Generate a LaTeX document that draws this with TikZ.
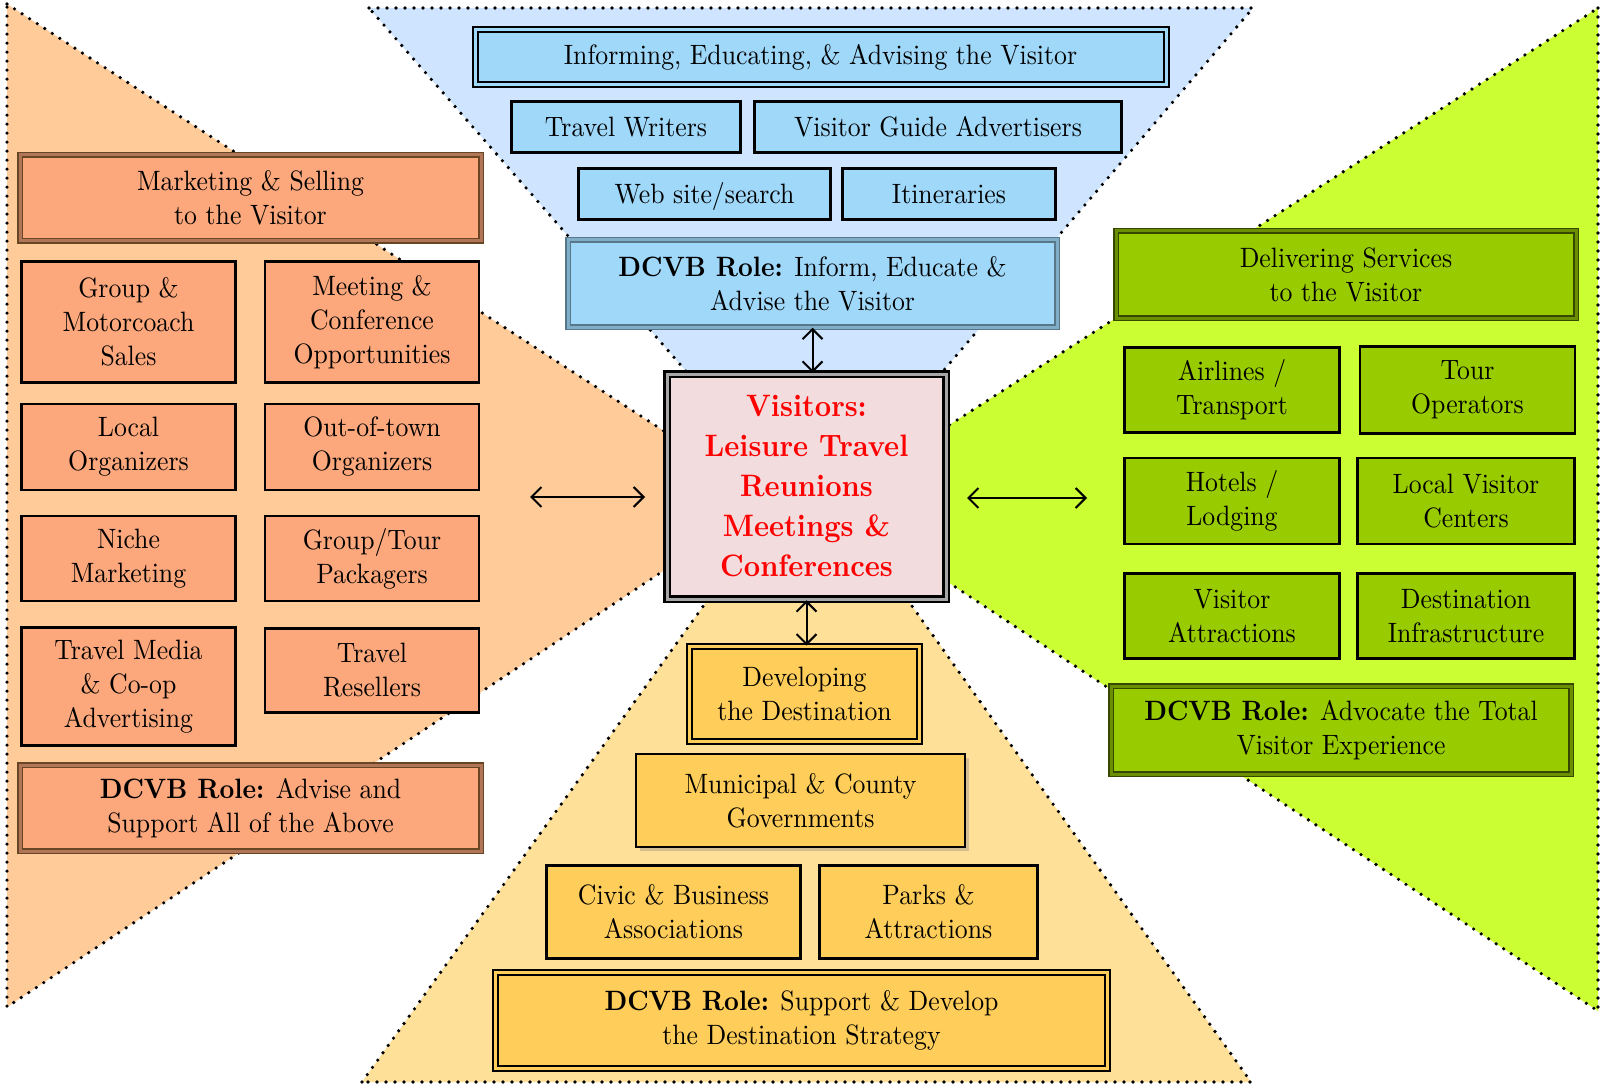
\documentclass[tikz,border=0pt]{standalone}
\usepackage{fontspec}
\setmainfont{lmroman10-regular.otf}[BoldFont=lmroman10-bold.otf, FakeStretch=0.92]
\usetikzlibrary{positioning,arrows.meta,shadows}
\definecolor{peach}{RGB}{255,204,153}
\definecolor{salmon}{RGB}{252,168,124}
\definecolor{skyfill}{RGB}{206,228,255}
\definecolor{skybox}{RGB}{160,216,250}
\definecolor{lime}{RGB}{204,255,51}
\definecolor{olive}{RGB}{153,204,0}
\definecolor{sand}{RGB}{255,224,153}
\definecolor{gold}{RGB}{255,206,90}
\definecolor{blush}{RGB}{242,220,221}

\begin{document}
\begin{tikzpicture}[x=1pt, y=-1pt, on grid,
>={Straight Barb[length=10pt,width=20pt]},
base/.style ={rectangle, inner sep=0pt, align=center,
font=\fontsize{28}{34}\selectfont},
item/.style ={base, draw, line width=2.5pt},
hdr/.style ={base, draw, line width=1.5pt, double distance=3pt},
lbox/.style ={item, fill=salmon, minimum width=214pt},
lhdr/.style ={hdr, fill=salmon, draw=brown!55!black, double=salmon!70!black,
minimum width=461pt, minimum height=86pt},
rbox/.style ={item, fill=olive, minimum width=215pt},
rhdr/.style ={hdr, fill=olive, draw=olive!35!black, double=olive!70!black,
minimum width=460pt},
tbox/.style ={item, fill=skybox, minimum height=51pt, text height=24pt, text depth=5pt},
bbox/.style ={item, fill=gold, minimum height=93pt},
dotline/.style ={line width=3.6pt, dash pattern=on 0pt off 9pt, line cap=round},
link/.style ={<->, line width=2pt}]
\useasboundingbox (0,0) rectangle (1601,1086);

\filldraw[fill=peach, dotline] (7,4) -- (770,500) -- (7,1007) -- cycle;
\filldraw[fill=skyfill, dotline] (369,8) -- (1253,8) -- (816,520) -- cycle;
\filldraw[fill=lime, dotline] (1598,8) -- (1598,1011) -- (828,503) -- cycle;
\filldraw[fill=sand, dotline] (362,1082) -- (808,460) -- (1251,1082) -- cycle;

\node[lhdr] (mkt) at (250.5,198) {Marketing \& Selling\\to the Visitor};
\node[lbox, minimum height=121pt] (gm) at (128.5,322) {Group \&\\Motorcoach\\Sales};
\node[lbox, minimum height=121pt] (mc) [right = 243.5pt of gm] {Meeting \&\\Conference\\Opportunities};
\node[lbox, minimum height=86pt] (lo) [below = 125pt of gm] {Local\\Organizers};
\node[lbox, minimum height=86pt] (oo) [below = 125pt of mc] {Out-of-town\\Organizers};
\node[lbox, minimum height=85pt] (nm) [below = 111.5pt of lo] {Niche\\Marketing};
\node[lbox, minimum height=85pt] (gtp) [below = 111.5pt of oo] {Group/Tour\\Packagers};
\node[lbox, minimum height=118pt] (tm) [below = 128pt of nm] {Travel Media\\\& Co-op\\Advertising};
\node[lbox, minimum height=84pt] (tr) [below = 112pt of gtp] {Travel\\Resellers};
\node[lhdr] (roleL) at (250.5,808) {\textbf{DCVB Role:} Advise and\\Support All of the Above};

\node[hdr, fill=skybox, line width=2pt, double=skybox, minimum width=691pt,
minimum height=55pt] (inf) at (820.5,57.5) {Informing, Educating, \& Advising the Visitor};
\node[tbox, minimum width=229pt] (tw) at (626,127) {Travel Writers};
\node[tbox, minimum width=367pt] (vga) [right = 312pt of tw] {Visitor Guide Advertisers};
\node[tbox, minimum width=252pt] (web) at (704.5,194) {Web site/search};
\node[tbox, minimum width=213pt] (iti) [right = 244.5pt of web] {Itineraries};
\node[hdr, fill=skybox, draw=black!45!skybox, double=skybox!80!black, minimum width=489pt,
minimum height=87pt] (roleT) at (812.5,283.5) {\textbf{DCVB Role:} Inform, Educate \&\\Advise the Visitor};

\node[rhdr, minimum height=87pt] (del) at (1346,274.5) {Delivering Services\\to the Visitor};
\node[rbox, minimum height=85pt] (air) at (1232,390) {Airlines /\\Transport};
\node[rbox, minimum height=87pt] (tour) [right = 235.5pt of air] {Tour\\Operators};
\node[rbox, minimum height=86pt] (hot) [below = 111pt of air] {Hotels /\\Lodging};
\node[rbox, minimum height=86pt, minimum width=217pt] (lvc) [right = 234pt of hot] {Local Visitor\\Centers};
\node[rbox, minimum height=85pt] (va) [below = 115pt of hot] {Visitor\\Attractions};
\node[rbox, minimum height=85pt, minimum width=217pt] (di) [right = 234pt of va] {Destination\\Infrastructure};
\node[rhdr, minimum height=88pt] (roleR) at (1341,730) {\textbf{DCVB Role:} Advocate the Total\\Visitor Experience};

\node[hdr, fill=gold, line width=2pt, double=gold, minimum width=230pt,
minimum height=95pt] (dev) at (804.5,694) {Developing\\the Destination};
\node[bbox, line width=1.5pt, minimum width=329pt, drop shadow={shadow xshift=4pt,
shadow yshift=-4pt, opacity=0.35}] (mun) at (800.5,800.5) {Municipal \& County\\Governments};
\node[bbox, minimum width=254pt] (civ) at (673.5,912) {Civic \& Business\\Associations};
\node[bbox, minimum width=218pt] (prk) [right = 255pt of civ] {Parks \&\\Attractions};
\node[hdr, fill=gold, line width=2pt, double=gold, minimum width=612pt,
minimum height=96pt] (roleB) at (801.5,1020.5) {\textbf{DCVB Role:} Support \& Develop\\the Destination Strategy};

\node[hdr, fill=blush, draw=black, line width=2.5pt, double=gray!70, double distance=3pt,
minimum width=279pt, minimum height=225pt, text=red,
font=\fontsize{31}{40}\selectfont\bfseries] (vis) at (806.5,486.5)
{Visitors:\\Leisure Travel\\Reunions\\Meetings \&\\Conferences};

\coordinate (lA) at (530,497);
\coordinate (lB) at (645,497);
\coordinate (rA) at (967,498);
\coordinate (rB) at (1087,498);
\draw[link] (roleT.south) -- (roleT.south |- vis.north);
\draw[link] (vis.south) -- (vis.south |- dev.north);
\draw[link] (lA) -- (lB);
\draw[link] (rA) -- (rB);
\end{tikzpicture}
\end{document}
